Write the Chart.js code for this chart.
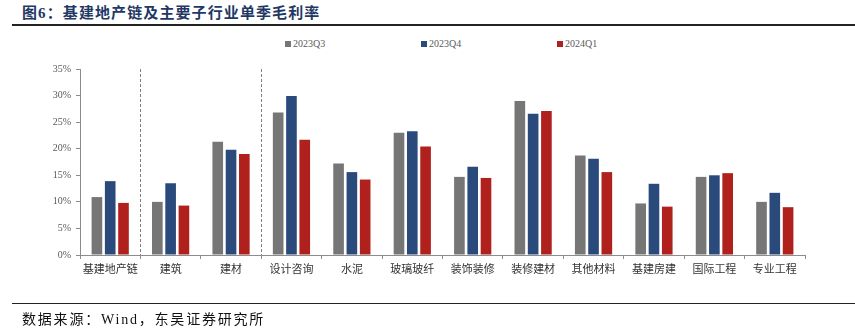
<!DOCTYPE html>
<html>
<head>
<meta charset="utf-8">
<script src="https://cdn.jsdelivr.net/npm/chart.js@4"></script>
<style>
  html, body { margin: 0; padding: 0; background: #fff; }
  #wrap { position: relative; width: 855px; height: 333px; overflow: hidden; }
  #title {
    position: absolute; left: 22px; top: 1px;
    font: bold 15px "Liberation Serif", "Noto Sans CJK SC", serif;
    color: #1f3864; letter-spacing: 1.1px; white-space: nowrap;
  }
  .rule { position: absolute; left: 12px; right: 0; background: #222; }
  #source {
    position: absolute; left: 22px; top: 308px;
    font: 14px "Liberation Serif", "Noto Sans CJK SC", serif;
    color: #111; white-space: nowrap; letter-spacing: 1.8px;
  }
  #legend { position: absolute; top: 38px; left: 0; width: 855px; height: 14px; }
  .item {
    position: absolute; top: 0; white-space: nowrap;
    font: 10px "Liberation Serif", serif; color: #595959;
  }
  .item i { display: inline-block; width: 6px; height: 6px; margin-right: 2px; vertical-align: 0px; }
  canvas { position: absolute; left: 0; top: 0; }
</style>
</head>
<body>
<div id="wrap">
  <div id="title">图6：基建地产链及主要子行业单季毛利率</div>
  <div class="rule" style="top:24px;height:2px"></div>
  <div id="legend"></div>
  <canvas id="chart" width="855" height="333"></canvas>
  <div class="rule" style="top:303px;height:1px"></div>
  <div id="source">数据来源：Wind，东吴证券研究所</div>
</div>
<script>
// categories and quarterly gross margin (%)
const categories = ["基建地产链", "建筑", "建材", "设计咨询", "水泥", "玻璃玻纤", "装饰装修", "装修建材", "其他材料", "基建房建", "国际工程", "专业工程"];
const seriesNames = ["2023Q3", "2023Q4", "2024Q1"];
const q3_2023 = [10.9, 10.0, 21.3, 26.8, 17.2, 23.0, 14.7, 29.0, 18.7, 9.7, 14.7, 10.0];
const q4_2023 = [13.9, 13.5, 19.8, 29.9, 15.6, 23.3, 16.6, 26.6, 18.1, 13.4, 15.0, 11.7];
const q1_2024 = [9.8, 9.3, 19.0, 21.7, 14.2, 20.4, 14.5, 27.1, 15.6, 9.1, 15.4, 9.0];
const yTicks = [0, 5, 10, 15, 20, 25, 30, 35];
// dashed separators sit after these category indexes
const separatorsAfter = [0, 2];

const colors = ["#767676", "#2b4a7c", "#b0211d"];
const legendLeft = [285, 421, 557];

// legend
const legendEl = document.getElementById("legend");
seriesNames.forEach((name, i) => {
  const span = document.createElement("span");
  span.className = "item";
  span.style.left = legendLeft[i] + "px";
  span.innerHTML = `<i style="background:${colors[i]}"></i>${name}`;
  legendEl.appendChild(span);
});

// dashed vertical lines between groups
const separatorPlugin = {
  id: "separators",
  afterDatasetsDraw(chart) {
    const { ctx, chartArea, scales } = chart;
    ctx.save();
    ctx.strokeStyle = "#7f7f7f";
    ctx.lineWidth = 1;
    ctx.setLineDash([3, 2]);
    separatorsAfter.forEach((i) => {
      const x = Math.round((scales.x.getPixelForValue(i) + scales.x.getPixelForValue(i + 1)) / 2) + 0.5;
      ctx.beginPath();
      ctx.moveTo(x, chartArea.top);
      ctx.lineTo(x, chartArea.bottom);
      ctx.stroke();
    });
    ctx.restore();
  },
};

const data = [q3_2023, q4_2023, q1_2024];

new Chart(document.getElementById("chart"), {
  type: "bar",
  data: {
    labels: categories,
    datasets: seriesNames.map((name, i) => ({
      label: name,
      data: data[i],
      backgroundColor: colors[i],
      categoryPercentage: 0.66,
      barPercentage: 0.8,
    })),
  },
  options: {
    responsive: false,
    animation: false,
    layout: { padding: { top: 69, right: 50, left: 0, bottom: 0 } },
    plugins: {
      legend: { display: false },
      tooltip: { enabled: false },
    },
    scales: {
      x: {
        grid: { drawOnChartArea: false, tickLength: 4, color: "#8c8c8c", offset: true },
        border: { color: "#8c8c8c" },
        ticks: {
          padding: 3,
          color: "#333",
          font: { family: "'Noto Sans CJK SC'", size: 11 },
          maxRotation: 0,
          autoSkip: false,
        },
        afterFit: (scale) => { scale.height = 78; },
      },
      y: {
        min: 0,
        max: 35,
        afterBuildTicks: (scale) => { scale.ticks = yTicks.map((v) => ({ value: v })); },
        grid: { drawOnChartArea: false, tickLength: 4, color: "#8c8c8c" },
        border: { color: "#8c8c8c" },
        ticks: {
          padding: 5,
          color: "#595959",
          font: { family: "'Liberation Serif'", size: 10 },
          callback: (v) => v + "%",
        },
        afterFit: (scale) => { scale.width = 80; },
      },
    },
  },
  plugins: [separatorPlugin],
});
</script>
</body>
</html>
